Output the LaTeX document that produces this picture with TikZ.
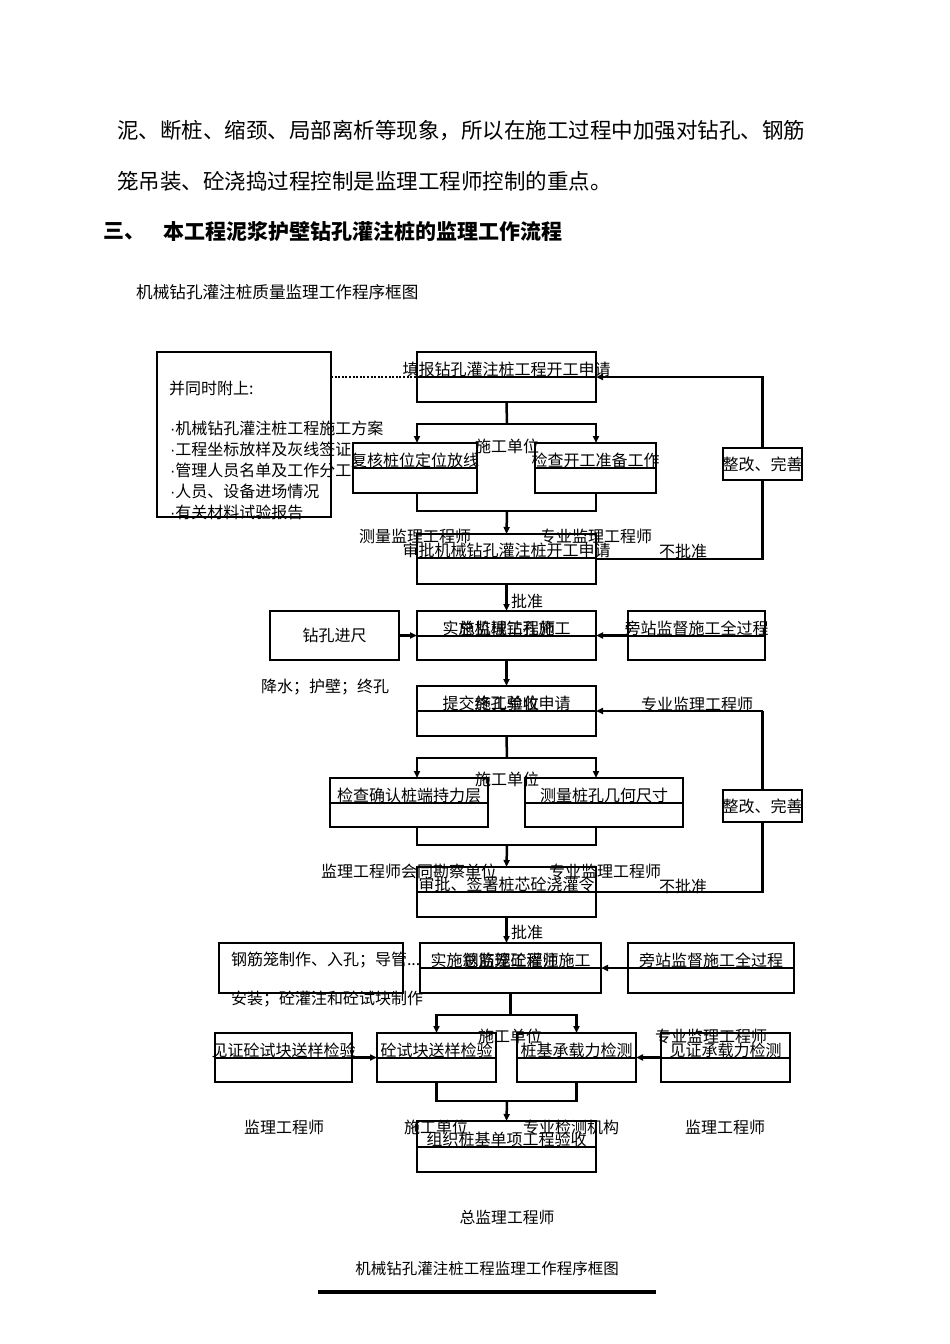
\documentclass[tikz,border=0pt]{standalone}
\usepackage{fontspec}
\setmainfont{Noto Sans CJK SC}
\newfontfamily\latinf{Liberation Sans}
\usetikzlibrary{arrows.meta}
\newcommand\fsz[1]{\fontsize{#1}{#1}\selectfont}
\newcommand\bul{{\latinf ·}}
\newcommand\tbox[7]{%
  \node[boxsh, anchor=north west, minimum width={#4-#2}, minimum height={#5-#3}] (#1) at (#2,#3) {};
  \draw[boxln] (#2,#6) -- (#4,#6);
  \node[lab] at ({(#2+#4)/2},{#6-7.5}) {#7};
}
\begin{document}
\begin{tikzpicture}[x=1pt,y=-1pt,
  boxsh/.style={draw, line width=1.3pt, inner sep=0, outer sep=0},
  boxln/.style={line width=1.3pt},
  lab/.style={font=\fsz{16}, inner sep=0, outer sep=0},
  conn/.style={line width=2.5pt},
  arr/.style={line width=2.5pt, -{Triangle[length=7pt,width=6pt]}},
  body/.style={font=\fsz{21.5}, inner sep=0, anchor=west},
]
\useasboundingbox (0,0) rectangle (950,1344);

% top text
\node[body] at (117,131) {泥、断桩、缩颈、局部离析等现象，所以在施工过程中加强对钻孔、钢筋};
\node[body] at (117,181) {笼吊装、砼浇捣过程控制是监理工程师控制的重点。};
\node[font=\fsz{21}\bfseries, inner sep=0, anchor=west] at (103,231) {三、};
\node[font=\fsz{21}\bfseries, inner sep=0, anchor=west] at (163,231) {本工程泥浆护壁钻孔灌注桩的监理工作流程};
\node[font=\fsz{16.6}, inner sep=0, anchor=west] at (136,292) {机械钻孔灌注桩质量监理工作程序框图};

% attachment box
\node[boxsh, anchor=north west, minimum width=174, minimum height=165] (W) at (157,352) {};
\node[lab, anchor=west] at (169,388) {并同时附上:};
\node[lab, anchor=west] at (170,428) {\bul 机械钻孔灌注桩工程施工方案};
\node[lab, anchor=west] at (170,449) {\bul 工程坐标放样及灰线签证};
\node[lab, anchor=west] at (170,470) {\bul 管理人员名单及工作分工};
\node[lab, anchor=west] at (170,491) {\bul 人员、设备进场情况};
\node[lab, anchor=west] at (170,512) {\bul 有关材料试验报告};

% boxes
\tbox{A}{417}{352}{596}{402}{377}{填报钻孔灌注桩工程开工申请}
\tbox{B}{353}{443}{477}{493}{468}{复核桩位定位放线}
\tbox{C}{535}{443}{656}{493}{468}{检查开工准备工作}
\tbox{D}{417}{534}{596}{584}{558}{审批机械钻孔灌注桩开工申请}
\tbox{E}{417}{611}{596}{660}{636}{实施机械钻孔施工}
\node[lab] at (507,628.5) {总监理工程师};
\node[boxsh, anchor=north west, minimum width=129, minimum height=49] (P) at (270,611) {};
\node[lab] at (P.center) {钻孔进尺};
\tbox{Q}{628}{611}{765}{660}{636}{旁站监督施工全过程}
\tbox{F}{417}{686}{596}{736}{711}{提交终孔验收申请}
\node[lab] at (507,703.5) {施工单位};
\tbox{G}{330}{778}{488}{827}{803}{检查确认桩端持力层}
\tbox{H}{525}{778}{683}{827}{803}{测量桩孔几何尺寸}
\tbox{I}{417}{867}{596}{917}{892}{审批、签署桩芯砼浇灌令}
\tbox{J}{420}{943}{601}{993}{968}{实施钢筋笼砼灌注施工}
\node[lab] at (510.5,960.5) {总监理工程师};
\node[boxsh, anchor=north west, minimum width=184, minimum height=50] (R) at (219,943) {};
\node[lab, anchor=west] at (231,960) {钢筋笼制作、入孔；导管...};
\node[lab, anchor=west] at (231,999) {安装；砼灌注和砼试块制作};
\tbox{S}{628}{943}{794}{993}{968}{旁站监督施工全过程}
\tbox{M}{215}{1033}{352}{1082}{1058}{见证砼试块送样检验}
\tbox{K}{377}{1033}{496}{1082}{1058}{砼试块送样检验}
\tbox{L}{517}{1033}{636}{1082}{1058}{桩基承载力检测}
\tbox{N}{661}{1033}{790}{1082}{1058}{见证承载力检测}
\tbox{O}{417}{1121}{596}{1172}{1147}{组织桩基单项工程验收}

% rectification boxes
\node[boxsh, anchor=north west, minimum width=79, minimum height=32] (Z1) at (723,448) {};
\node[lab] at (Z1.center) {整改、完善};
\node[boxsh, anchor=north west, minimum width=79, minimum height=32] (Z2) at (723,790) {};
\node[lab] at (Z2.center) {整改、完善};

% labels
\node[lab] at (507,446) {施工单位};
\node[lab] at (415,536) {测量监理工程师};
\node[lab] at (596,536) {专业监理工程师};
\node[lab] at (683,551) {不批准};
\node[lab, anchor=west] at (511,601) {批准};
\node[lab] at (325,687) {降水；护壁；终孔};
\node[lab] at (697,704) {专业监理工程师};
\node[lab] at (507,779) {施工单位};
\node[lab] at (409,871) {监理工程师会同勘察单位};
\node[lab] at (605,871) {专业监理工程师};
\node[lab] at (683,886) {不批准};
\node[lab, anchor=west] at (511,932) {批准};
\node[lab] at (510,1036) {施工单位};
\node[lab] at (711,1036) {专业监理工程师};
\node[lab] at (284,1127) {监理工程师};
\node[lab] at (436,1127) {施工单位};
\node[lab] at (571,1127) {专业检测机构};
\node[lab] at (725,1127) {监理工程师};
\node[lab, font=\fsz{15.8}] at (507,1217) {总监理工程师};
\node[lab, font=\fsz{15.5}] at (487,1269) {机械钻孔灌注桩工程监理工作程序框图};
\coordinate (ul1) at (318,1292);
\coordinate (ul2) at (656,1292);
\draw[line width=3.5pt] (ul1) -- (ul2);

% connectors
\coordinate (x417) at (417,0);
\coordinate (x596) at (596,0);
\draw[line width=2.6pt, dash pattern=on 2pt off 1.6pt] (W.east |- A.west) -- (A.west);

\coordinate (j1) at (507,424);
\draw[conn] (A.south) -- (j1);
\draw[arr] (j1) -| (B.north -| x417);
\draw[arr] (j1) -| (C.north -| x596);
\coordinate (j2) at (507,511);
\draw[conn] (B.south -| x417) |- (j2);
\draw[conn] (C.south -| x596) |- (j2);
\draw[arr] (j2) -- (D.north);
\draw[conn] (D.east) -| (Z1.south);
\draw[arr] (Z1.north) |- (A.east);
\draw[arr] (D.south) -- (E.north);
\draw[arr] (P.east |- E.east) -- (E.east -| E.west);
\draw[arr] (Q.west |- E.east) -- (E.east);
\draw[arr] (E.south) -- (F.north);
\draw[conn] (Z2.north) -- (Z2.north |- F.east);
\draw[arr] (Z2.north |- F.east) -- (F.east);

\coordinate (j3) at (507,758);
\draw[conn] (F.south) -- (j3);
\draw[arr] (j3) -| (G.north -| x417);
\draw[arr] (j3) -| (H.north -| x596);
\coordinate (j4) at (507,845);
\draw[conn] (G.south -| x417) |- (j4);
\draw[conn] (H.south -| x596) |- (j4);
\draw[arr] (j4) -- (I.north);
\draw[conn] (I.east) -| (Z2.south);
\draw[arr] (I.south) -- (I.south |- J.north);
\draw[arr] (S.west |- J.east) -- (J.east);

\coordinate (j5) at (510.5,1015);
\draw[conn] (J.south) -- (j5);
\draw[arr] (j5) -| (K.north);
\draw[arr] (j5) -| (L.north);
\draw[arr] (M.east) -- (K.west);
\draw[arr] (N.west) -- (L.east);
\coordinate (j6) at (507,1101);
\draw[conn] (K.south) |- (j6);
\draw[conn] (L.south) |- (j6);
\draw[arr] (j6) -- (O.north);
\end{tikzpicture}
\end{document}
